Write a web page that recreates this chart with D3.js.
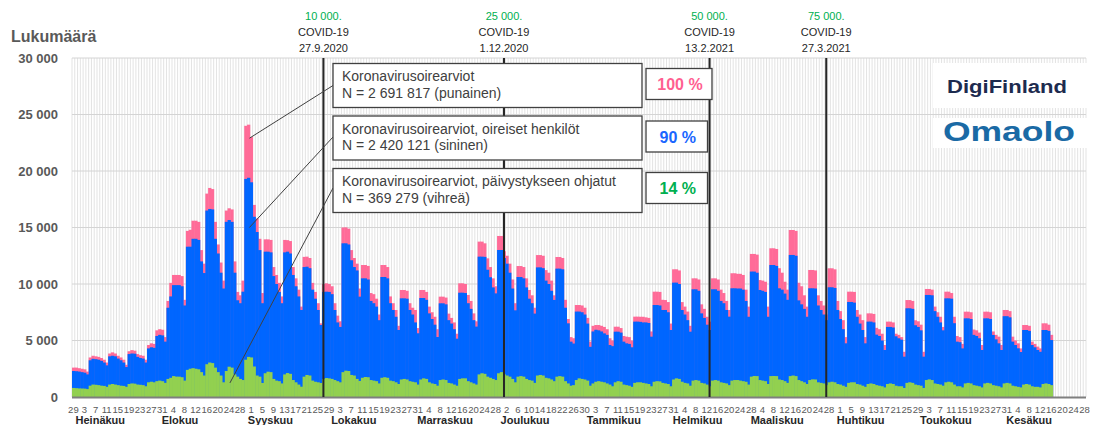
<!DOCTYPE html>
<html>
<head>
<meta charset="utf-8">
<script src="https://cdn.jsdelivr.net/npm/d3@7"></script>
<style>
  body { margin: 0; background: #fff; }
  svg text { font-family: "Liberation Sans", Arial, sans-serif; }
</style>
</head>
<body>
<svg id="chart" width="1093" height="425"></svg>
<script>
// day axis runs 29.6.2020 - 28.6.2021, data until 16.6.2021
const startDate = new Date(2020, 5, 29);
const endDate = new Date(2021, 5, 29);

// daily counts, one line per week (Mon..Sun)
const punainen = [
  2600, 2600, 2550, 2500, 2450, 2250, 3500,      // 29.6.
  3650, 3600, 3550, 3450, 3300, 3050, 3850,      // 6.7.
  3950, 3850, 3650, 3500, 3300, 2850, 4050,      // 13.7.
  4150, 4100, 3800, 3700, 3650, 3300, 4600,      // 20.7.
  4750, 4700, 5900, 6000, 5950, 5300, 8500,      // 27.7.
  10100, 10800, 10800, 10800, 10700, 8600, 14700, // 3.8.
  14800, 15600, 15600, 15500, 13000, 11800, 18000,
  18500, 18400, 15500, 13500, 11900, 10300, 16500,
  16700, 16600, 12000, 9300, 9000, 10300, 24000,
  24100, 23000, 17000, 15800, 14000, 9200, 13950, // 31.8.
  13950, 13900, 11500, 10800, 10100, 8900, 13900,
  13880, 13800, 11500, 10500, 9500, 8000, 12400,
  12420, 12300, 10100, 9300, 8300, 6520, 10000,
  10060, 10000, 9800, 8300, 7200, 6700, 15000,    // 28.9.
  15010, 14900, 13000, 12300, 11800, 9600, 11680,
  11680, 11600, 9200, 9100, 8700, 7300, 11680,
  11680, 11500, 8900, 8300, 7700, 6300, 9470,
  9470, 9400, 8300, 7900, 7700, 6100, 9470,
  9470, 9300, 8000, 7500, 7100, 6000, 8880,       // 2.11.
  8880, 8800, 7380, 7000, 6600, 5600, 10060,
  10060, 10000, 9030, 8500, 7400, 6700, 13750,
  13750, 13600, 12270, 11500, 10500, 9800, 14250,
  14250, 12900, 12500, 11800, 10400, 8300, 11590, // 30.11.
  11590, 11500, 10500, 9470, 9000, 7900, 12560,
  12560, 12500, 11230, 11000, 10300, 9000, 12390,
  12390, 12300, 8600, 6900, 5300, 5200, 8140,
  8140, 8100, 7900, 7000, 4900, 6300, 6370,       // 28.12.
  6370, 6300, 6200, 6000, 5200, 5000, 6220,
  6220, 6100, 5400, 5340, 5300, 5000, 7110,
  7110, 7100, 7100, 7050, 7000, 5800, 9320,
  9320, 9300, 8600, 8580, 8400, 6500, 11300,
  11300, 11200, 8400, 8000, 7560, 6300, 10500,    // 1.2.
  10500, 10400, 8200, 7800, 7100, 6670, 10500,
  10500, 10400, 9500, 9200, 8500, 7700, 10950,
  10950, 10900, 10900, 10800, 9500, 8000, 12660,
  12660, 12600, 10350, 10300, 10200, 8000, 13160, // 1.3.
  13160, 13100, 11400, 11000, 10200, 9500, 14780,
  14780, 14700, 10110, 9800, 9000, 8000, 11240,
  11240, 11200, 9000, 8500, 8100, 7300, 11390,
  11390, 11300, 8500, 7600, 6800, 5300, 9320,
  9320, 9300, 7700, 7300, 6800, 5300, 7400,       // 5.4.
  7400, 7350, 6120, 6000, 5600, 4600, 6670,
  6670, 6600, 5600, 5500, 5300, 4000, 8580,
  8580, 8500, 6790, 6700, 6400, 4000, 9560,
  9560, 9500, 8000, 7500, 7100, 6200, 9320,       // 3.5.
  9320, 9200, 7100, 5400, 5300, 4700, 7550,
  7550, 7500, 5970, 5900, 5700, 4600, 7550,
  7550, 7500, 5800, 5500, 5340, 4600, 7700,
  7700, 7600, 5340, 5000, 4750, 4300, 6370,       // 31.5.
  6370, 6300, 4900, 4700, 4460, 4300, 6520,
  6520, 6400, 5500
];

const sininen = [
  2300, 2280, 2250, 2200, 2150, 2000, 3250,
  3380, 3350, 3300, 3200, 3050, 2800, 3600,
  3650, 3600, 3400, 3250, 3050, 2650, 3800,
  3850, 3830, 3550, 3450, 3400, 3050, 4300,
  4400, 4350, 5400, 5500, 5450, 4900, 7900,
  8900, 9900, 9900, 9900, 9800, 8100, 13300,
  13300, 14000, 14000, 13900, 12000, 10970, 16500,
  16640, 16600, 14000, 12700, 11000, 9600, 15500,
  15660, 15500, 11000, 8560, 8300, 9320, 19300,
  19400, 19000, 15950, 14600, 13000, 8300, 12860,
  12860, 12800, 10700, 10000, 9300, 8300, 12800,
  12860, 12700, 10800, 9800, 8900, 7700, 11500,
  11530, 11400, 9500, 8700, 7700, 6370, 9300,
  9320, 9300, 9100, 7700, 6600, 6200, 13600,
  13600, 13500, 12100, 11500, 11200, 8880, 10500,
  10500, 10400, 8500, 8300, 8000, 6800, 10620,
  10620, 10500, 8300, 7700, 7100, 5930, 8730,
  8730, 8700, 7700, 7300, 6600, 5640, 8760,
  8760, 8600, 7400, 6900, 6400, 5310, 8290,
  8290, 8200, 6800, 6500, 6000, 5160, 9230,
  9230, 9200, 8300, 7800, 6800, 6230, 12420,
  12420, 12400, 11260, 10600, 9700, 9170, 13010,
  13010, 12300, 11800, 11000, 9600, 7670, 10620,
  10620, 10500, 9700, 8700, 8300, 7380, 11470,
  11470, 11400, 10300, 10000, 9400, 8590, 11360,
  11360, 11300, 7900, 6520, 4900, 4730, 7560,
  7560, 7500, 7300, 6500, 4440, 5800, 5950,
  5900, 5800, 5630, 5500, 4600, 4500, 5780,
  5780, 5700, 4900, 4750, 4700, 4400, 6670,
  6670, 6650, 6600, 6600, 6550, 5340, 8140,
  8140, 8100, 7700, 7700, 7500, 5930, 10120,
  10120, 10000, 7700, 7300, 6800, 5780, 9530,
  9530, 9400, 7400, 7000, 6400, 5930, 9530,
  9530, 9400, 8500, 8300, 7700, 7110, 9620,
  9620, 9600, 9600, 9500, 8500, 7100, 11100,
  11100, 11000, 9470, 9400, 9300, 7100, 11680,
  11680, 11600, 9620, 9500, 9150, 8600, 12570,
  12570, 12500, 8550, 8200, 7800, 7100, 9620,
  9620, 9600, 8100, 7700, 7300, 6800, 9710,
  9710, 9650, 7700, 6900, 6000, 4750, 8410,
  8410, 8350, 7100, 6500, 5930, 4750, 6670,
  6670, 6600, 5520, 5400, 5000, 4160, 6200,
  6200, 6150, 5370, 5200, 5070, 3570, 7850,
  7850, 7800, 6350, 6200, 5900, 3570, 9030,
  9030, 9000, 7600, 7100, 6600, 5900, 8730,
  8730, 8700, 6530, 4900, 4850, 4300, 6960,
  6960, 6900, 5500, 5400, 5200, 4160, 6960,
  6960, 6900, 5490, 5100, 4750, 4160, 7150,
  7150, 7050, 4900, 4600, 4310, 3980, 5930,
  5930, 5850, 4600, 4400, 4160, 4000, 5930,
  5930, 5850, 5040
];

const vihrea = [
  800, 780, 760, 750, 740, 700, 1000,
  1100, 1080, 1050, 1000, 980, 900, 1100,
  1150, 1100, 1050, 1000, 980, 900, 1150,
  1200, 1180, 1100, 1080, 1050, 950, 1300,
  1350, 1300, 1400, 1450, 1400, 1250, 1600,
  1700, 1850, 1800, 1800, 1750, 1450, 2400,
  2500, 2550, 2500, 2450, 2200, 1900, 2900,
  3050, 3000, 2600, 2200, 1900, 1300, 2300,
  2680, 2600, 2000, 1800, 1600, 1500, 3300,
  3550, 3500, 2700, 1900, 1800, 1240, 2100,
  2240, 2200, 1600, 1450, 1400, 1200, 2000,
  2120, 2050, 1500, 1300, 1100, 910, 1800,
  1950, 1900, 1450, 1350, 1300, 1240, 1600,
  1680, 1650, 1600, 1500, 1400, 1300, 2200,
  2330, 2300, 1950, 1900, 1600, 1420, 1700,
  1770, 1750, 1500, 1450, 1400, 1200, 1700,
  1750, 1700, 1450, 1400, 1300, 1150, 1550,
  1600, 1550, 1400, 1350, 1300, 1100, 1550,
  1650, 1600, 1300, 1200, 1150, 1000, 1500,
  1550, 1500, 1250, 1200, 1100, 1000, 1600,
  1650, 1650, 1400, 1300, 1200, 1100, 2000,
  2100, 2050, 1800, 1700, 1600, 1500, 2100,
  2200, 2000, 1900, 1800, 1600, 1300, 1800,
  1850, 1800, 1600, 1500, 1450, 1250, 1900,
  1950, 1900, 1700, 1650, 1550, 1400, 1800,
  1850, 1800, 1400, 1200, 1000, 1050, 1500,
  1650, 1600, 1550, 1450, 1000, 1200, 1350,
  1400, 1350, 1300, 1200, 1100, 950, 1300,
  1400, 1350, 1100, 1050, 1000, 900, 1250,
  1300, 1300, 1250, 1200, 1150, 950, 1350,
  1400, 1380, 1250, 1200, 1150, 950, 1550,
  1650, 1600, 1350, 1250, 1200, 1000, 1450,
  1500, 1450, 1250, 1200, 1100, 950, 1450,
  1500, 1450, 1300, 1250, 1200, 1050, 1450,
  1500, 1500, 1450, 1400, 1350, 1100, 1800,
  1860, 1850, 1500, 1450, 1400, 1150, 1850,
  1860, 1850, 1550, 1500, 1400, 1250, 1850,
  1900, 1850, 1500, 1400, 1300, 1150, 1500,
  1560, 1550, 1300, 1250, 1200, 1050, 1300,
  1350, 1300, 1150, 1100, 1000, 900, 1250,
  1300, 1300, 1150, 1100, 1000, 900, 1150,
  1200, 1150, 1050, 1000, 950, 850, 1150,
  1200, 1150, 1000, 950, 950, 800, 1250,
  1300, 1250, 1100, 1050, 1000, 800, 1500,
  1560, 1500, 1200, 1150, 1100, 1000, 1300,
  1350, 1300, 1100, 950, 950, 850, 1200,
  1250, 1200, 1050, 1000, 950, 850, 1200,
  1250, 1200, 1050, 1000, 950, 850, 1200,
  1250, 1200, 1000, 950, 900, 850, 1100,
  1150, 1100, 950, 900, 900, 850, 1150,
  1200, 1150, 1050
];

const yTicks = [0, 5000, 10000, 15000, 20000, 25000, 30000];
const monthNames = ["Heinäkuu", "Elokuu", "Syyskuu", "Lokakuu", "Marraskuu", "Joulukuu",
  "Tammikuu", "Helmikuu", "Maaliskuu", "Huhtikuu", "Toukokuu", "Kesäkuu"];

// milestones drawn as black vertical lines
const events = [
  { date: new Date(2020, 8, 27), count: "10 000.", label: "27.9.2020" },
  { date: new Date(2020, 11, 1), count: "25 000.", label: "1.12.2020" },
  { date: new Date(2021, 1, 13), count: "50 000.", label: "13.2.2021" },
  { date: new Date(2021, 2, 27), count: "75 000.", label: "27.3.2021" }
];

const legendTitles = ["Koronavirusoirearviot", "Koronavirusoirearviot, oireiset henkilöt",
  "Koronavirusoirearviot, päivystykseen ohjatut"];
const legendTotals = ["N = 2 691 817 (punainen)", "N = 2 420 121 (sininen)", "N = 369 279 (vihreä)"];
const legendShares = ["100 %", "90 %", "14 %"];
// [day index, value] that each legend box points at
const leaderTargets = [[63, 22900], [63, 15000], [56, 1250]];

const colors = { pink: "#ff6b98", blue: "#0066ff", green: "#92d050" };
const shareColors = ["#ff5f91", "#1a66ff", "#00b050"];

const svg = d3.select("#chart");
const days = d3.timeDay.range(startDate, endDate);

const x = d3.scaleBand()
  .domain(d3.range(days.length))
  .range([72, 1086])
  .padding(0);
const y = d3.scaleLinear()
  .domain([0, 30000])
  .range([397, 58]);
const bw = x.bandwidth();

// grid
const grid = svg.append("g");
grid.selectAll("line.v")
  .data(d3.range(days.length + 1))
  .enter().append("line")
  .attr("x1", d => 72 + d * bw).attr("x2", d => 72 + d * bw)
  .attr("y1", y(30000)).attr("y2", y(0))
  .attr("stroke", "#dcdcdc").attr("stroke-width", 0.8);
grid.selectAll("line.h")
  .data(yTicks.slice(1))
  .enter().append("line")
  .attr("x1", 72).attr("x2", 1086)
  .attr("y1", d => y(d)).attr("y2", d => y(d))
  .attr("stroke", "#d4d4d4").attr("stroke-width", 1);

// bars, drawn back to front
function drawSeries(values, color) {
  svg.append("g").selectAll("rect")
    .data(values)
    .enter().append("rect")
    .attr("x", (d, i) => x(i))
    .attr("width", bw + 0.5)
    .attr("y", d => y(d))
    .attr("height", d => y(0) - y(d))
    .attr("fill", color);
}
drawSeries(punainen, colors.pink);
drawSeries(sininen, colors.blue);
drawSeries(vihrea, colors.green);

// baseline
svg.append("line")
  .attr("x1", 72).attr("x2", 1086)
  .attr("y1", y(0) + 0.5).attr("y2", y(0) + 0.5)
  .attr("stroke", "#7f7f7f").attr("stroke-width", 2);

// y labels
svg.append("g").selectAll("text")
  .data(yTicks)
  .enter().append("text")
  .attr("x", 58).attr("y", d => y(d) + 4.5)
  .attr("text-anchor", "end")
  .attr("font-size", 13).attr("font-weight", "bold")
  .attr("fill", "#595959")
  .text(d => d3.format(",")(d).replace(/,/g, " "));

svg.append("text")
  .attr("x", 11).attr("y", 42)
  .attr("font-size", 16).attr("font-weight", "bold")
  .attr("fill", "#595959")
  .text("Lukumäärä");

// x labels: every 4th day + month names
svg.append("g").selectAll("text")
  .data(days.map((d, i) => [d, i]).filter(p => p[1] % 4 === 0))
  .enter().append("text")
  .attr("x", p => x(p[1]) + bw / 2)
  .attr("y", 413)
  .attr("text-anchor", "middle")
  .attr("font-size", 9.5)
  .attr("fill", "#595959")
  .text(p => p[0].getDate());

const monthStarts = days.map((d, i) => [d, i]).filter(p => p[0].getDate() === 1);
svg.append("g").selectAll("text")
  .data(monthStarts)
  .enter().append("text")
  .attr("x", (p, k) => x(p[1]) - 2)
  .attr("y", 424)
  .attr("font-size", 11).attr("font-weight", "bold")
  .attr("fill", "#262626")
  .text((p, k) => monthNames[k]);

// milestone lines + labels
events.forEach(e => {
  const cx = x(d3.timeDay.count(startDate, e.date)) + bw / 2;
  svg.append("line")
    .attr("x1", cx).attr("x2", cx)
    .attr("y1", y(30000)).attr("y2", y(0))
    .attr("stroke", "#262626").attr("stroke-width", 2);
  svg.append("text").attr("x", cx).attr("y", 20)
    .attr("text-anchor", "middle").attr("font-size", 11)
    .attr("fill", "#00b050").text(e.count);
  svg.append("text").attr("x", cx).attr("y", 36)
    .attr("text-anchor", "middle").attr("font-size", 11)
    .attr("fill", "#262626").text("COVID-19");
  svg.append("text").attr("x", cx).attr("y", 52)
    .attr("text-anchor", "middle").attr("font-size", 11)
    .attr("fill", "#262626").text(e.label);
});

// legend boxes with leader lines
const boxTops = [63.5, 116, 168.5];
const shareTops = [68.5, 121, 172.5];
const shareWidths = [66, 61.5, 61.5];
legendTitles.forEach((t, k) => {
  const top = boxTops[k];
  svg.append("line")
    .attr("x1", x(leaderTargets[k][0]) + bw / 2 + 1).attr("y1", y(leaderTargets[k][1]))
    .attr("x2", 333).attr("y2", [85.5, 137, 188][k])
    .attr("stroke", "#404040").attr("stroke-width", 1);
  svg.append("rect")
    .attr("x", 333).attr("y", top).attr("width", 309).attr("height", 44)
    .attr("fill", "#fff").attr("stroke", "#404040").attr("stroke-width", 1.3);
  svg.append("text").attr("x", 342).attr("y", top + 17.5)
    .attr("font-size", 14).attr("fill", "#404040").text(t);
  svg.append("text").attr("x", 342).attr("y", top + 34)
    .attr("font-size", 14).attr("fill", "#404040").text(legendTotals[k]);
  svg.append("rect")
    .attr("x", 646).attr("y", shareTops[k]).attr("width", shareWidths[k]).attr("height", 31)
    .attr("fill", "#fff").attr("stroke", "#404040").attr("stroke-width", 1.3);
  svg.append("text")
    .attr("x", 646 + shareWidths[k] / 2 + 1).attr("y", shareTops[k] + 21.5)
    .attr("text-anchor", "middle")
    .attr("font-size", 16).attr("font-weight", "bold")
    .attr("fill", shareColors[k]).text(legendShares[k]);
});

// logos
svg.append("rect").attr("x", 933).attr("y", 63).attr("width", 154).attr("height", 45).attr("fill", "#fff");
svg.append("text").attr("x", 947).attr("y", 93)
  .attr("font-size", 18).attr("font-weight", "bold")
  .attr("textLength", 120).attr("lengthAdjust", "spacingAndGlyphs")
  .attr("fill", "#1d2b4f").text("DigiFinland");
svg.append("rect").attr("x", 933).attr("y", 118).attr("width", 154).attr("height", 30).attr("fill", "#fff");
svg.append("text").attr("x", 943).attr("y", 141)
  .attr("font-size", 28).attr("font-weight", "bold")
  .attr("textLength", 132).attr("lengthAdjust", "spacingAndGlyphs")
  .attr("fill", "#1a6aa5").text("Omaolo");
</script>
</body>
</html>
